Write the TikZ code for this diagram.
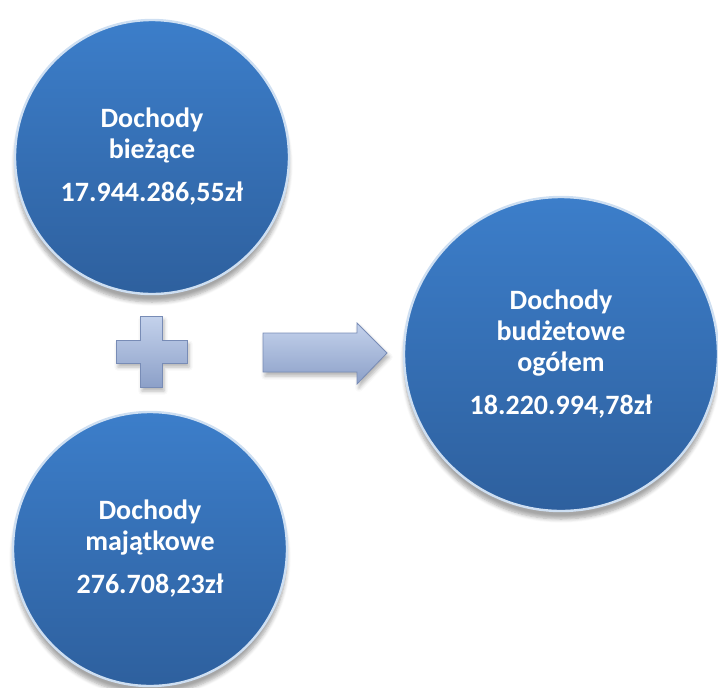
\documentclass[tikz,border=0pt]{standalone}
\usepackage{fontspec}
\setmainfont{Carlito}
\usetikzlibrary{shadows.blur}

\definecolor{balltop}{RGB}{60,126,202}
\definecolor{ballbot}{RGB}{46,96,158}
\definecolor{signtop}{RGB}{196,210,236}
\definecolor{signbot}{RGB}{140,160,200}
\definecolor{signedge}{RGB}{120,140,182}

\begin{document}
\begin{tikzpicture}[
    x=0.5pt, y=-0.5pt,
    ball/.style={circle, top color=balltop, bottom color=ballbot,
        draw=white!75!balltop, line width=1.2pt, text=white, align=center,
        font=\fontsize{14}{15.5}\selectfont\bfseries,
        blur shadow={shadow xshift=0pt, shadow yshift=-4pt, shadow blur steps=6, shadow opacity=35}},
    sign/.style={top color=signtop, bottom color=signbot, draw=signedge, line width=0.4pt,
        blur shadow={shadow xshift=1pt, shadow yshift=-2pt, shadow blur steps=4, shadow opacity=30}}
]
\useasboundingbox (0,0) rectangle (718,687);

\node[ball, minimum size=137pt] (current) at (152,157) {Dochody\\bieżące\\[6pt]17.944.286,55zł};
\node[ball, minimum size=137pt] (assets) at (150,549) {Dochody\\majątkowe\\[6pt]276.708,23zł};
\node[ball, minimum size=157pt] (total) at (561,354) {Dochody\\budżetowe\\ogółem\\[6pt]18.220.994,78zł};

\draw[sign] (140,316) -- (162,316) -- (162,340) -- (187,340) -- (187,363) -- (162,363)
    -- (162,387) -- (140,387) -- (140,363) -- (116,363) -- (116,340) -- (140,340) -- cycle;

\draw[sign] (263,333) -- (357,333) -- (357,323) -- (387,353) -- (357,384) -- (357,372)
    -- (263,372) -- cycle;
\end{tikzpicture}
\end{document}
